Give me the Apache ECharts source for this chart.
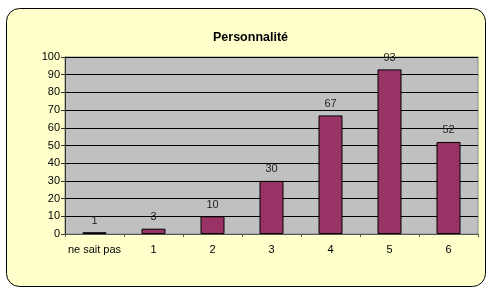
<!DOCTYPE html>
<html>
<head>
<meta charset="utf-8">
<script src="https://cdn.jsdelivr.net/npm/echarts@6/dist/echarts.min.js"></script>
<style>
  html, body { margin: 0; padding: 0; background: #fff; }
  #chart { width: 488px; height: 289px; }
</style>
</head>
<body>
<div id="chart"></div>
<script>
  // data
  const categories = ['ne sait pas', '1', '2', '3', '4', '5', '6']
  const values = [1, 3, 10, 30, 67, 93, 52]
  const yTicks = { min: 0, max: 100, interval: 10 }

  const chart = echarts.init(document.getElementById('chart'))
  const font = 'Liberation Sans, Arial, sans-serif'

  chart.setOption({
    animation: false,
    graphic: [{
      type: 'rect',
      z: -10,
      shape: { x: 6.5, y: 8.5, width: 479, height: 278, r: 13 },
      style: { fill: '#FFFFCC', stroke: '#000', lineWidth: 1 }
    }],
    title: {
      text: 'Personnalité',
      left: 208,
      top: 26,
      textStyle: { fontFamily: font, fontSize: 12.5, fontWeight: 'bold', color: '#000' }
    },
    grid: {
      left: 65, top: 57, right: 10, bottom: 55,
      show: true,
      backgroundColor: '#C0C0C0',
      borderColor: '#888',
      borderWidth: 1
    },
    xAxis: {
      type: 'category',
      data: categories,
      axisLine: { lineStyle: { color: '#555', width: 1 } },
      axisTick: { show: true, alignWithLabel: false, length: 3, lineStyle: { color: '#555' } },
      axisLabel: { fontFamily: font, fontSize: 11, color: '#000', margin: 10, interval: 0 }
    },
    yAxis: {
      type: 'value',
      min: yTicks.min,
      max: yTicks.max,
      interval: yTicks.interval,
      axisLine: { show: true, lineStyle: { color: '#333' } },
      axisTick: { show: true, length: 4, lineStyle: { color: '#333' } },
      axisLabel: { fontFamily: font, fontSize: 11, color: '#000', margin: 5 },
      splitLine: { lineStyle: { color: '#000', width: 1 } }
    },
    series: [{
      type: 'bar',
      data: values,
      barWidth: 24,
      itemStyle: { color: '#993366', borderColor: '#000', borderWidth: 1 },
      label: {
        show: true,
        position: 'top',
        distance: 6,
        fontFamily: font,
        fontSize: 11,
        color: '#222'
      }
    }]
  })
</script>
</body>
</html>
